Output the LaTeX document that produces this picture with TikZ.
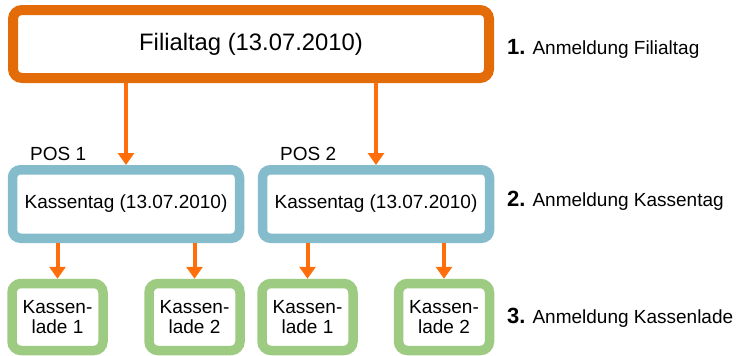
\documentclass[tikz,border=0pt]{standalone}
\usepackage{fontspec}
\setmainfont{Liberation Sans}
\usetikzlibrary{arrows.meta}
\definecolor{boxorange}{RGB}{227,108,9}
\definecolor{arroworange}{RGB}{255,110,10}
\definecolor{boxblue}{RGB}{132,188,204}
\definecolor{boxgreen}{RGB}{158,203,130}
\begin{document}
\begin{tikzpicture}[x=1pt,y=-1pt,
  topbox/.style={draw=boxorange,line width=10pt,rounded corners=9pt,fill=white,
    minimum width=476pt,minimum height=68pt,inner sep=0pt,font=\fontsize{23.8}{26}\selectfont},
  kassebox/.style={draw=boxblue,line width=9.5pt,rounded corners=8pt,fill=white,
    minimum width=227pt,minimum height=68.5pt,inner sep=0pt,font=\fontsize{19}{21}\selectfont},
  ladebox/.style={draw=boxgreen,line width=9.5pt,rounded corners=9pt,fill=white,
    minimum width=91pt,minimum height=67pt,inner sep=0pt,align=center,
    font=\fontsize{19}{19.5}\selectfont},
  poslabel/.style={anchor=base west,inner sep=0pt,font=\fontsize{19}{21}\selectfont},
  steplabel/.style={anchor=base west,inner sep=0pt,font=\fontsize{19}{21}\selectfont},
  flow/.style={draw=arroworange,line width=4pt,-{Triangle[width=16pt,length=12pt]}}]
\useasboundingbox (0,0) rectangle (737,356);

\node[topbox] (fil) at (251,44) {Filialtag (13.07.2010)};

\node[kassebox] (k1) at (126,204) {Kassentag (13.07.2010)};
\node[kassebox] (k2) at (376,204) {Kassentag (13.07.2010)};

\node[poslabel] (pos1) at (30,160) {POS 1};
\node[poslabel] (pos2) at (280,160) {POS 2};

\node[ladebox] (l11) at (57.5,317) {Kassen-\\lade 1};
\node[ladebox] (l12) at (194.5,317) {Kassen-\\lade 2};
\node[ladebox] (l21) at (307.5,317) {Kassen-\\lade 1};
\node[ladebox] (l22) at (444,317) {Kassen-\\lade 2};

\draw[flow] (fil.south -| k1.north) -- (k1.north);
\draw[flow] (fil.south -| k2.north) -- (k2.north);
\draw[flow] (k1.south -| l11.north) -- (l11.north);
\draw[flow] (k1.south -| l12.north) -- (l12.north);
\draw[flow] (k2.south -| l21.north) -- (l21.north);
\draw[flow] (k2.south -| l22.north) -- (l22.north);

\node[steplabel] (s1) at (507,54) {{\bfseries\fontsize{22}{24}\selectfont 1.}\hspace{7pt}Anmeldung Filialtag};
\node[steplabel] (s2) at (507,206.5) {{\bfseries\fontsize{22}{24}\selectfont 2.}\hspace{7pt}Anmeldung Kassentag};
\node[steplabel] (s3) at (507,323) {{\bfseries\fontsize{22}{24}\selectfont 3.}\hspace{7pt}Anmeldung Kassenlade};
\end{tikzpicture}
\end{document}
